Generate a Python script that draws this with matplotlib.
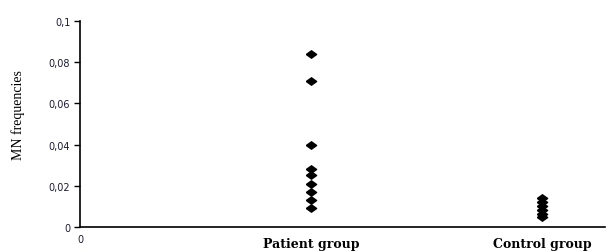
import matplotlib.pyplot as plt

groups = ["Patient group", "Control group"]
patient_mn = [0.084, 0.071, 0.040, 0.028, 0.025, 0.021, 0.017, 0.013, 0.009]
control_mn = [0.014, 0.012, 0.010, 0.008, 0.0065, 0.005]
y_ticks = [0, 0.02, 0.04, 0.06, 0.08, 0.1]
y_labels = ["0", "0,02", "0,04", "0,06", "0,08", "0,1"]

diamond = [(-1, 0), (0, 0.72), (1, 0), (0, -0.72), (-1, 0)]

fig = plt.figure(figsize=(6.08, 2.53), dpi=100)
ax = fig.add_axes([0.1316, 0.099, 0.863, 0.814])

ax.scatter([1] * len(patient_mn), patient_mn, marker=diamond, s=55, color="black", zorder=3)
ax.scatter([2] * len(control_mn), control_mn, marker=diamond, s=55, color="black", zorder=3)

ax.set_xlim(0, 2.27)
ax.set_ylim(0, 0.1)
ax.spines["top"].set_visible(False)
ax.spines["right"].set_visible(False)
ax.spines["left"].set_linewidth(1.2)
ax.spines["bottom"].set_linewidth(1.2)

ax.set_yticks(y_ticks)
ax.set_yticklabels(y_labels, family="DejaVu Sans", fontsize=7, color="#1a1a33")
ax.tick_params(axis="y", direction="out", length=4, width=1, pad=3)

ax.set_xticks([0, 1, 2])
ax.set_xticklabels(["0"] + groups)
ax.tick_params(axis="x", length=0, pad=7)
xl = ax.get_xticklabels()
xl[0].set_family("DejaVu Sans")
xl[0].set_fontsize(7)
xl[0].set_color("#1a1a33")
xl[0].set_y(0.012)
for t in xl[1:]:
    t.set_family("DejaVu Serif")
    t.set_fontweight("bold")
    t.set_fontsize(9)

ax.set_ylabel("MN frequencies", family="Liberation Serif", fontsize=10)
ax.yaxis.set_label_coords(-0.105, 0.55)

fig.savefig("out.png", dpi=100)
